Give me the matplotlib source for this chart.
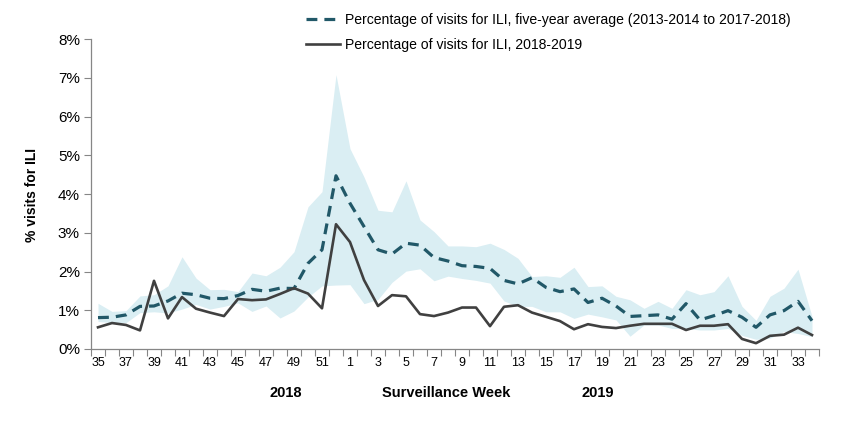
import matplotlib
matplotlib.use("Agg")
import matplotlib.pyplot as plt
import matplotlib.transforms as mtransforms
import numpy as np

weeks = list(range(35, 53)) + list(range(1, 35))

season_2018_2019 = [0.56, 0.67, 0.62, 0.48, 1.76, 0.79, 1.34, 1.04, 0.94, 0.85, 1.29, 1.26, 1.28, 1.42, 1.57, 1.43, 1.05, 3.22,
                    2.76, 1.78, 1.11, 1.39, 1.36, 0.90, 0.85, 0.94, 1.07, 1.07, 0.59, 1.09, 1.13, 0.94, 0.83, 0.72,
                    0.51, 0.64, 0.57, 0.54, 0.60, 0.65, 0.65, 0.65, 0.49, 0.60, 0.60, 0.64, 0.26, 0.15, 0.34, 0.37, 0.55, 0.36]

five_year_avg = [0.81, 0.82, 0.88, 1.10, 1.11, 1.24, 1.44, 1.40, 1.31, 1.30, 1.38, 1.54, 1.49, 1.57, 1.56, 2.21, 2.56, 4.47,
                 3.76, 3.16, 2.56, 2.45, 2.73, 2.68, 2.36, 2.27, 2.15, 2.13, 2.08, 1.77, 1.68, 1.84, 1.59, 1.48,
                 1.55, 1.20, 1.31, 1.11, 0.84, 0.86, 0.88, 0.77, 1.17, 0.75, 0.86, 0.99, 0.82, 0.56, 0.88, 0.99, 1.23, 0.73]

range_max = [1.18, 0.97, 0.99, 1.37, 1.40, 1.63, 2.38, 1.83, 1.53, 1.54, 1.48, 1.96, 1.89, 2.11, 2.51, 3.67, 4.06, 7.08,
             5.17, 4.44, 3.58, 3.54, 4.34, 3.33, 3.03, 2.66, 2.66, 2.64, 2.73, 2.57, 2.34, 1.87, 1.89, 1.85,
             2.11, 1.61, 1.63, 1.36, 1.27, 1.05, 1.23, 1.05, 1.53, 1.40, 1.48, 1.89, 1.10, 0.74, 1.36, 1.57, 2.06, 0.84]

range_min = [0.71, 0.68, 0.68, 0.94, 0.96, 0.93, 1.03, 1.15, 1.03, 1.10, 1.19, 0.97, 1.11, 0.80, 0.98, 1.34, 1.63, 1.65,
             1.66, 1.17, 1.28, 1.72, 2.01, 2.07, 1.76, 1.88, 1.82, 1.77, 1.70, 1.24, 1.10, 1.10, 0.96, 0.96,
             0.79, 0.90, 0.83, 0.75, 0.33, 0.62, 0.62, 0.53, 0.53, 0.49, 0.49, 0.53, 0.35, 0.25, 0.28, 0.45, 0.40, 0.32]

legend_avg = "Percentage of visits for ILI, five-year average (2013-2014 to 2017-2018)"
legend_cur = "Percentage of visits for ILI, 2018-2019"

regular = ['Liberation Sans', 'DejaVu Sans']

fig = plt.figure(figsize=(8.45, 4.23), dpi=100)
ax = fig.add_axes([91 / 845, 1 - 349 / 423, (819 - 91) / 845, (349 - 39) / 423])

x = np.arange(len(weeks))
ax.fill_between(x, range_min, range_max, color='#DAEEF3', linewidth=0, zorder=1)
l1, = ax.plot(x, five_year_avg, color='#215868', lw=2.3, dashes=(3.4, 2.2), zorder=3)
l2, = ax.plot(x, season_2018_2019, color='#404040', lw=1.9, zorder=4)

ax.set_xlim(-0.5, len(weeks) - 0.5)
ax.set_ylim(0, 8)

ax.set_yticks(range(0, 9))
ax.set_yticklabels([f"{v}%" for v in range(0, 9)], family=regular, fontsize=11)
ax.set_xticks(x[::2])
ax.set_xticklabels([str(w) for w in weeks[::2]], family=regular, fontsize=9)
ax.set_xticks(np.arange(-0.5, len(weeks), 1), minor=True)
ax.tick_params(axis='x', which='major', length=0, pad=6, colors='#000000')
ax.tick_params(axis='x', which='minor', length=5, width=0.8, color='#868686', direction='out')
ax.tick_params(axis='y', length=5, width=0.8, color='#868686', direction='out', pad=3)

for s in ['top', 'right']:
    ax.spines[s].set_visible(False)
for s in ['left', 'bottom']:
    ax.spines[s].set_color('#868686')
    ax.spines[s].set_linewidth(0.9)

fig.text(32 / 845, 1 - 195 / 423, '% visits for ILI', family=regular, fontsize=10,
         fontweight='bold', rotation=90, ha='center', va='center')

trans = mtransforms.blended_transform_factory(ax.transData, fig.transFigure)
yb = 1 - 393 / 423
ax.text(13.4, yb, '2018', transform=trans, ha='center', va='center', fontsize=10.5, fontweight='bold', family=regular)
ax.text(24.9, yb, 'Surveillance Week', transform=trans, ha='center', va='center', fontsize=10.5, fontweight='bold', family=regular)
ax.text(35.7, yb, '2019', transform=trans, ha='center', va='center', fontsize=10.5, fontweight='bold', family=regular)

leg = fig.legend([l1, l2], [legend_avg, legend_cur], loc='upper left',
                 bbox_to_anchor=(306 / 845, 1 - 13 / 423), bbox_transform=fig.transFigure,
                 frameon=False, prop={'family': regular, 'size': 10.1},
                 handlelength=2.4, handletextpad=0.4, labelspacing=0.75, borderpad=0, borderaxespad=0)

fig.savefig('out.png', dpi=100)
